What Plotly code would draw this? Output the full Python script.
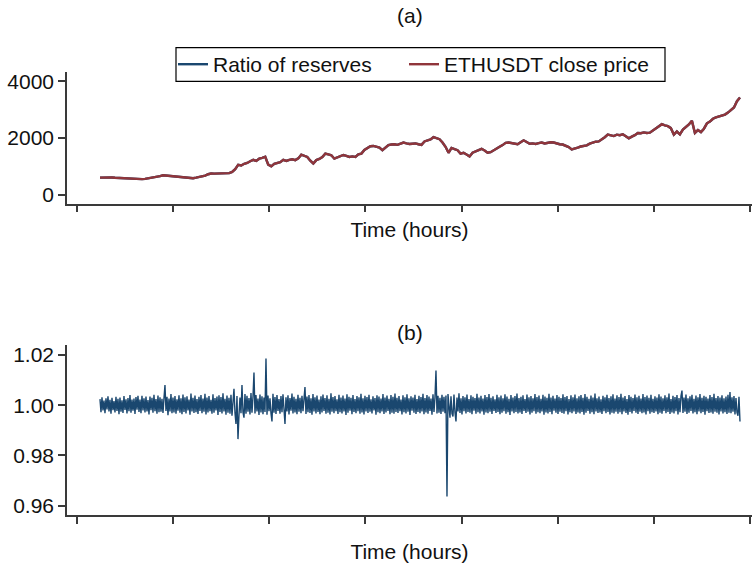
import plotly.graph_objects as go

# ETHUSDT close price (USD), sampled evenly over the period
price = [
    600, 605, 598, 602, 607, 595, 590, 585, 575, 560,
    552, 545, 540, 537, 548, 555, 570, 585, 600, 620,
    655, 685, 675, 668, 672, 660, 648, 640, 625, 610,
    595, 580, 600, 620, 640, 672, 720, 745, 742, 750,
    748, 755, 752, 760, 800, 900, 1050, 1030, 1090, 1120,
    1180, 1230, 1190, 1270, 1300, 1340, 1060, 1000, 1090, 1120,
    1150, 1230, 1190, 1230, 1250, 1220, 1280, 1410, 1380, 1330,
    1200, 1100, 1220, 1260, 1330, 1450, 1420, 1390, 1270, 1310,
    1350, 1400, 1370, 1330, 1350, 1330, 1420, 1450, 1580, 1660,
    1710, 1720, 1680, 1660, 1570, 1650, 1750, 1770, 1780, 1760,
    1800, 1840, 1810, 1790, 1800, 1810, 1780, 1760, 1880, 1910,
    1950, 2030, 2000, 1960, 1840, 1690, 1480, 1650, 1610, 1570,
    1450, 1480, 1420, 1350, 1480, 1530, 1570, 1620, 1560, 1480,
    1500, 1560, 1600, 1690, 1750, 1830, 1840, 1820, 1800, 1780,
    1850, 1920, 1860, 1800, 1810, 1790, 1820, 1840, 1810, 1830,
    1850, 1840, 1800, 1780, 1770, 1720, 1680, 1600, 1620, 1660,
    1700, 1720, 1740, 1800, 1840, 1870, 1880, 1940, 2030, 2120,
    2090, 2070, 2120, 2100, 2130, 2060, 1990, 2050, 2100, 2180,
    2170, 2200, 2180, 2190, 2260, 2360, 2420, 2490, 2450, 2420,
    2350, 2120, 2230, 2130, 2300, 2380, 2480, 2610, 2180, 2280,
    2210, 2330, 2520, 2580, 2680, 2730, 2770, 2790, 2830, 2900,
    3000, 3080, 3300, 3430,
]

# Ratio of reserves (dimensionless), sampled evenly over the same period
ratio = [
    1.0024, 0.9972, 1.0031, 0.9979, 1.0018, 0.9968, 1.0027, 0.9983, 1.0035, 0.9975, 1.0021, 0.9966, 1.0029, 0.9980, 1.0016, 0.9971, 1.0033, 0.9977, 1.0025, 0.9964,
    1.0030, 0.9974, 1.0019, 0.9969, 1.0036, 0.9981, 1.0023, 0.9967, 1.0028, 0.9976, 1.0040, 0.9970, 1.0022, 0.9978, 1.0026, 0.9965, 1.0032, 0.9982, 1.0037, 0.9973,
    1.0022, 0.9968, 1.0037, 0.9979, 1.0027, 0.9971, 1.0034, 0.9975, 1.0020, 0.9963, 1.0034, 0.9980, 1.0029, 0.9970, 1.0041, 0.9976, 1.0024, 0.9966, 1.0038, 0.9972,
    1.0031, 0.9974, 1.0025, 0.9969, 1.0028, 1.0080, 0.9977, 1.0033, 0.9960, 1.0026, 0.9975, 1.0044, 0.9968, 1.0030, 0.9971, 1.0036, 0.9966, 1.0023, 0.9978, 1.0039,
    0.9970, 1.0027, 0.9964, 1.0042, 0.9973, 1.0031, 0.9967, 1.0035, 0.9979, 1.0022, 0.9962, 1.0046, 0.9975, 1.0029, 0.9969, 1.0038, 0.9972, 1.0024, 0.9965, 1.0033,
    0.9977, 1.0040, 0.9968, 1.0026, 0.9974, 1.0045, 0.9963, 1.0030, 0.9971, 1.0036, 0.9976, 1.0021, 0.9966, 1.0043, 0.9970, 1.0028, 0.9979, 1.0034, 0.9961, 1.0039,
    0.9973, 1.0032, 0.9967, 1.0047, 0.9975, 1.0025, 0.9962, 1.0038, 0.9970, 1.0029, 0.9966, 1.0041, 0.9958, 1.0034, 1.0065, 0.9969, 0.9925, 1.0036, 0.9865, 0.9960,
    1.0030, 0.9968, 1.0080, 0.9972, 0.9950, 1.0044, 0.9966, 1.0037, 0.9974, 1.0028, 0.9963, 1.0048, 0.9970, 1.0033, 1.0130, 0.9967, 1.0040, 0.9975, 1.0026, 0.9961,
    1.0042, 0.9971, 1.0035, 0.9964, 1.0030, 0.9973, 1.0185, 0.9962, 1.0038, 0.9976, 1.0027, 0.9968, 0.9935, 1.0045, 0.9970, 1.0032, 0.9965, 1.0040, 0.9977, 1.0024,
    0.9966, 1.0036, 0.9972, 1.0043, 0.9969, 0.9925, 1.0031, 0.9975, 1.0039, 0.9963, 1.0028, 0.9978, 1.0046, 0.9967, 1.0033, 0.9971, 1.0025, 0.9964, 1.0041, 0.9974,
    1.0029, 0.9968, 1.0037, 0.9976, 1.0024, 1.0072, 0.9965, 1.0034, 0.9972, 1.0040, 0.9969, 1.0027, 0.9962, 1.0044, 0.9975, 1.0031, 0.9967, 1.0038, 0.9973, 1.0022,
    0.9964, 1.0035, 0.9971, 1.0042, 0.9977, 1.0028, 0.9966, 1.0039, 0.9970, 1.0025, 0.9963, 1.0047, 0.9974, 1.0032, 0.9968, 1.0036, 0.9976, 1.0023, 0.9965, 1.0041,
    0.9972, 1.0030, 0.9967, 1.0038, 0.9975, 1.0026, 0.9961, 1.0043, 0.9970, 1.0033, 0.9978, 1.0029, 0.9964, 1.0040, 0.9973, 1.0024, 0.9968, 1.0036, 0.9976, 1.0031,
    0.9966, 1.0045, 0.9971, 1.0027, 0.9963, 1.0037, 0.9975, 1.0032, 0.9969, 1.0041, 0.9974, 1.0023, 0.9967, 1.0035, 0.9979, 1.0028, 0.9962, 1.0039, 0.9972, 1.0034,
    0.9968, 1.0026, 0.9975, 1.0044, 0.9965, 1.0030, 0.9971, 1.0038, 0.9977, 1.0025, 0.9964, 1.0040, 0.9970, 1.0033, 0.9966, 1.0046, 0.9973, 1.0029, 0.9969, 1.0036,
    0.9976, 1.0022, 0.9963, 1.0039, 0.9972, 1.0031, 0.9967, 1.0043, 0.9974, 1.0027, 0.9961, 1.0035, 0.9978, 1.0030, 0.9970, 1.0041, 0.9965, 1.0024, 0.9973, 1.0037,
    0.9968, 1.0032, 0.9975, 1.0045, 0.9964, 1.0028, 0.9971, 1.0040, 0.9966, 1.0034, 0.9977, 1.0026, 0.9962, 1.0043, 0.9973, 1.0031, 1.0138, 0.9967, 1.0037, 0.9970,
    1.0029, 0.9965, 1.0041, 0.9974, 1.0033, 0.9968, 1.0038, 0.9637, 1.0044, 0.9972, 0.9950, 1.0035, 0.9966, 0.9955, 1.0042, 0.9971, 0.9935, 1.0030, 0.9975, 1.0047,
    0.9969, 1.0027, 0.9963, 1.0036, 0.9976, 1.0031, 0.9967, 1.0042, 0.9973, 1.0024, 0.9970, 1.0039, 0.9964, 1.0033, 0.9978, 1.0028, 0.9966, 1.0045, 0.9972, 1.0030,
    0.9967, 1.0037, 0.9975, 1.0026, 0.9962, 1.0040, 0.9971, 1.0032, 0.9968, 1.0044, 0.9974, 1.0029, 0.9965, 1.0035, 0.9977, 1.0023, 0.9969, 1.0041, 0.9973, 1.0031,
    0.9964, 1.0038, 0.9970, 1.0027, 0.9976, 1.0043, 0.9966, 1.0034, 0.9972, 1.0025, 0.9961, 1.0040, 0.9975, 1.0030, 0.9968, 1.0036, 0.9973, 1.0046, 0.9967, 1.0028,
    0.9971, 1.0033, 0.9965, 1.0039, 0.9977, 1.0024, 0.9969, 1.0042, 0.9974, 1.0031, 0.9963, 1.0036, 0.9970, 1.0027, 0.9976, 1.0044, 0.9966, 1.0032, 0.9972, 1.0038,
    0.9968, 1.0025, 0.9975, 1.0041, 0.9962, 1.0034, 0.9971, 1.0029, 0.9967, 1.0045, 0.9973, 1.0030, 0.9964, 1.0037, 0.9978, 1.0026, 0.9970, 1.0040, 0.9965, 1.0033,
    0.9974, 1.0028, 0.9969, 1.0043, 0.9966, 1.0032, 0.9976, 1.0036, 0.9963, 1.0024, 0.9972, 1.0039, 0.9968, 1.0031, 0.9975, 1.0042, 0.9965, 1.0027, 0.9971, 1.0035,
    0.9967, 1.0040, 0.9973, 1.0029, 0.9962, 1.0044, 0.9970, 1.0033, 0.9977, 1.0025, 0.9966, 1.0038, 0.9972, 1.0030, 0.9964, 1.0046, 0.9975, 1.0027, 0.9969, 1.0034,
    0.9971, 1.0023, 0.9965, 1.0037, 0.9976, 1.0031, 0.9968, 1.0041, 0.9973, 1.0028, 0.9963, 1.0035, 0.9970, 1.0043, 0.9967, 1.0026, 0.9974, 1.0039, 0.9966, 1.0032,
    0.9972, 1.0045, 0.9964, 1.0030, 0.9975, 1.0036, 0.9969, 1.0024, 0.9962, 1.0040, 0.9973, 1.0033, 0.9967, 1.0028, 0.9977, 1.0042, 0.9970, 1.0031, 0.9965, 1.0037,
    0.9974, 1.0026, 0.9968, 1.0044, 0.9971, 1.0032, 0.9963, 1.0038, 0.9976, 1.0029, 0.9966, 1.0041, 0.9972, 1.0025, 0.9969, 1.0035, 0.9975, 1.0030, 0.9964, 1.0043,
    0.9970, 1.0034, 0.9966, 1.0027, 0.9977, 1.0039, 0.9968, 1.0031, 0.9973, 1.0046, 0.9965, 1.0024, 0.9971, 1.0037, 0.9967, 1.0032, 0.9976, 1.0040, 0.9963, 1.0028,
    0.9972, 1.0036, 1.0058, 0.9969, 1.0030, 0.9974, 1.0042, 0.9965, 1.0027, 0.9970, 1.0035, 0.9977, 1.0041, 0.9967, 1.0025, 0.9972, 1.0038, 0.9964, 1.0031, 0.9975,
    1.0044, 0.9968, 1.0029, 0.9973, 1.0037, 0.9962, 1.0033, 0.9976, 1.0026, 0.9969, 1.0040, 0.9971, 1.0032, 0.9966, 1.0045, 0.9974, 1.0028, 0.9970, 1.0036, 0.9963,
    1.0030, 0.9975, 1.0039, 0.9967, 1.0027, 0.9972, 1.0034, 0.9965, 1.0041, 0.9970, 1.0052, 0.9968, 1.0031, 0.9974, 1.0036, 0.9963, 1.0028, 0.9971, 0.9958, 1.0033,
    0.9935,
]

# time axis (hours)
start_hour = 239
end_hour = 6896
price_hours = [start_hour + (end_hour - start_hour) * i / (len(price) - 1) for i in range(len(price))]
ratio_hours = [start_hour + (end_hour - start_hour) * i / (len(ratio) - 1) for i in range(len(ratio))]
x_ticks = [0, 1000, 2000, 3000, 4000, 5000, 6000, 7000]
y1_ticks = [0, 2000, 4000]
y2_ticks = [0.96, 0.98, 1.00, 1.02]
y2_labels = ["0.96", "0.98", "1.00", "1.02"]

BLUE = "#1a476f"
RED = "#90353b"
AX = "#3a3a3a"
FONT = "Liberation Sans, Arial, sans-serif"
FS = 21
W, H = 752, 566
L_MARGIN = 67
PLOT_W = W - L_MARGIN


def px_x(p):
    return (p - L_MARGIN) / PLOT_W


def px_y(p):
    return 1 - p / H


fig = go.Figure()
fig.add_trace(go.Scatter(x=price_hours, y=price, mode="lines", name="Ratio of reserves",
                         line=dict(color=BLUE, width=2.4), xaxis="x", yaxis="y",
                         legend="legend"))
fig.add_trace(go.Scatter(x=price_hours, y=price, mode="lines", name="ETHUSDT close price",
                         line=dict(color=RED, width=2.4), xaxis="x", yaxis="y",
                         legend="legend2"))
fig.add_trace(go.Scatter(x=ratio_hours, y=ratio, mode="lines", name="Ratio of reserves",
                         line=dict(color=BLUE, width=1.4), showlegend=False,
                         xaxis="x2", yaxis="y2"))

xcommon = dict(range=[-104, 7021], tickvals=x_ticks, showticklabels=False,
               ticks="outside", ticklen=7, tickwidth=1.5, tickcolor=AX,
               showline=True, linecolor=AX, linewidth=1.5, showgrid=False,
               zeroline=False, fixedrange=True)
ycommon = dict(ticks="outside", ticklen=7, tickwidth=1.5, tickcolor=AX,
               showline=True, linecolor=AX, linewidth=1.5, showgrid=False,
               zeroline=False, tickfont=dict(size=FS, color="#111"))
legcommon = dict(orientation="h", xanchor="left", yanchor="middle", y=px_y(63),
                 borderwidth=0, bgcolor="rgba(0,0,0,0)", font=dict(size=FS), itemwidth=30)

fig.update_layout(
    width=W, height=H,
    margin=dict(l=L_MARGIN, r=0, t=0, b=0),
    paper_bgcolor="white", plot_bgcolor="white",
    font=dict(family=FONT, size=FS, color="#111"),
    xaxis=dict(domain=[0, 1], anchor="y",
               title=dict(text="Time (hours)", standoff=11, font=dict(size=FS)), **xcommon),
    yaxis=dict(domain=[px_y(203), px_y(70)], anchor="x", range=[-316, 4351],
               tickvals=y1_ticks, **ycommon),
    xaxis2=dict(domain=[0, 1], anchor="y2",
                title=dict(text="Time (hours)", standoff=21, font=dict(size=FS)), **xcommon),
    yaxis2=dict(domain=[px_y(517), px_y(345)], anchor="x2", range=[0.95619, 1.02408],
                tickvals=y2_ticks, ticktext=y2_labels, **ycommon),
    legend=dict(x=px_x(173), **legcommon),
    legend2=dict(x=px_x(404), **legcommon),
    shapes=[dict(type="rect", xref="paper", yref="paper",
                 x0=px_x(176), x1=px_x(665), y0=px_y(80), y1=px_y(46),
                 line=dict(color="#000", width=1.2), fillcolor="rgba(0,0,0,0)",
                 layer="above")],
    annotations=[
        dict(text="(a)", x=0.5, xref="paper", y=px_y(14), yref="paper",
             xanchor="center", yanchor="middle", showarrow=False, font=dict(size=FS)),
        dict(text="(b)", x=0.5, xref="paper", y=px_y(333), yref="paper",
             xanchor="center", yanchor="middle", showarrow=False, font=dict(size=FS)),
    ],
)

fig.write_html("out.html", config={"displayModeBar": False},
               post_script="document.body.style.margin='0px';")
